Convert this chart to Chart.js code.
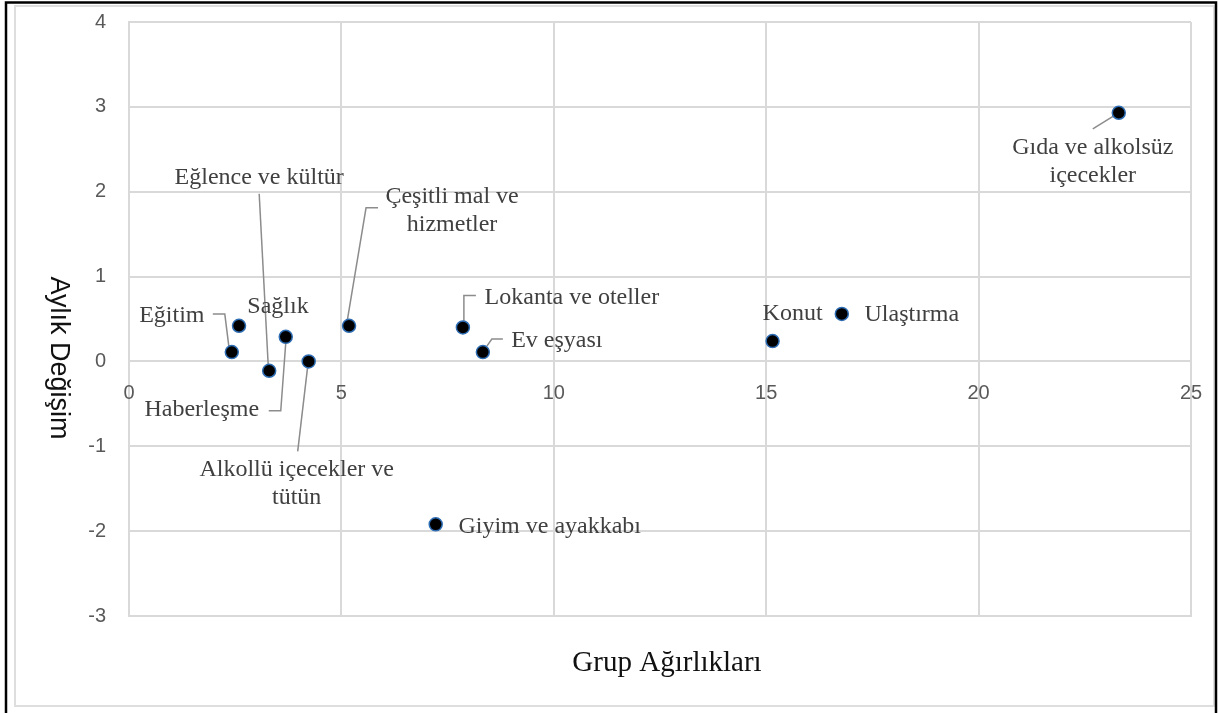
<!DOCTYPE html>
<html><head><meta charset="utf-8">
<script src="https://cdn.jsdelivr.net/npm/chart.js@4.4.1/dist/chart.umd.min.js"></script>
<style>html,body{margin:0;padding:0;background:#fff;}canvas{display:block;}</style>
</head><body>
<canvas id="c" width="1218" height="713"></canvas>
<script>
// ---- data ----
const categories = ["Eğitim","Sağlık","Eğlence ve kültür","Haberleşme","Alkollü içecekler ve tütün","Çeşitli mal ve hizmetler","Giyim ve ayakkabı","Lokanta ve oteller","Ev eşyası","Konut","Ulaştırma","Gıda ve alkolsüz içecekler"];
const weights = [2.42, 2.59, 3.30, 3.69, 4.23, 5.18, 7.22, 7.86, 8.33, 15.15, 16.78, 23.30];
const changes = [0.11, 0.42, -0.11, 0.29, 0.00, 0.42, -1.92, 0.40, 0.11, 0.24, 0.56, 2.93];
const xTicks = [0, 5, 10, 15, 20, 25];
const yTicks = [-3, -2, -1, 0, 1, 2, 3, 4];
const labelLines = [["Eğitim"],["Sağlık"],["Eğlence ve kültür"],["Haberleşme"],["Alkollü içecekler ve","tütün"],["Çeşitli mal ve","hizmetler"],["Giyim ve ayakkabı"],["Lokanta ve oteller"],["Ev eşyası"],["Konut"],["Ulaştırma"],["Gıda ve alkolsüz","içecekler"]];
const xTitle = "Grup Ağırlıkları";
const yTitle = "Aylık Değişim";

// ---- label layout (pixel offsets from each point) ----
const labelOffsets = [[-60,-36],[39,-19],[-10,-193],[-84,73],[-12,122],[103,-115],[114,2],[109,-30],[74,-11],[20,-27],[70,1],[-26,49]];
const leaderPaths = [
  [[-19,-38],[-7,-38],[-3,-6]],
  null,
  [[-10,-177],[-1,-6]],
  [[-17,74],[-5,74],[0,6]],
  [[-11,90],[-1,5]],
  [[29,-118],[17,-118],[-2,-4]],
  null,
  [[13,-32],[1,-32],[1,-6]],
  [[20,-13],[9,-13],[4,-6]],
  null,
  null,
  [[-26,16],[-5,3]]
];

const GRID = '#d9d9d9';
const LABEL_FONT = '24px "Liberation Serif"';
const LINE_H = 28;
const X_TICK_GAP = 32; // label centre below the y=0 line

const framePlugin = {
  id: 'frame',
  beforeDraw(chart) {
    const ctx = chart.ctx;
    ctx.save();
    ctx.fillStyle = '#fff';
    ctx.fillRect(0, 0, chart.width, chart.height);
    ctx.strokeStyle = '#dedede';
    ctx.lineWidth = 2;
    ctx.strokeRect(15, 6, 1199, 700);
    ctx.strokeStyle = '#000';
    ctx.lineWidth = 2.5;
    ctx.beginPath();
    ctx.moveTo(6, 713); ctx.lineTo(6, 2.5); ctx.lineTo(1216, 2.5); ctx.lineTo(1216, 713);
    ctx.stroke();
    ctx.restore();
  },
  beforeDatasetsDraw(chart) {
    const ctx = chart.ctx;
    const pts = chart.getDatasetMeta(0).data;
    ctx.save();
    ctx.strokeStyle = '#8c8c8c';
    ctx.lineWidth = 1.5;
    leaderPaths.forEach((path, i) => {
      if (!path) return;
      const p = pts[i];
      ctx.beginPath();
      path.forEach(([dx, dy], k) => {
        if (k === 0) ctx.moveTo(p.x + dx, p.y + dy); else ctx.lineTo(p.x + dx, p.y + dy);
      });
      ctx.stroke();
    });
    // x tick labels sitting under the y = 0 line
    const xs = chart.scales.x, ys = chart.scales.y;
    const y0 = ys.getPixelForValue(0);
    ctx.font = '20px "Liberation Sans"';
    ctx.fillStyle = '#595959';
    ctx.textAlign = 'center';
    ctx.textBaseline = 'middle';
    xTicks.forEach(v => ctx.fillText(String(v), xs.getPixelForValue(v), y0 + X_TICK_GAP));
    ctx.restore();
  },
  afterDatasetsDraw(chart) {
    const ctx = chart.ctx;
    const pts = chart.getDatasetMeta(0).data;
    ctx.save();
    ctx.font = LABEL_FONT;
    ctx.fillStyle = '#404040';
    ctx.textAlign = 'center';
    ctx.textBaseline = 'middle';
    labelLines.forEach((lines, i) => {
      const p = pts[i];
      const [dx, dy] = labelOffsets[i];
      const y0 = p.y + dy - (lines.length - 1) * LINE_H / 2;
      lines.forEach((t, k) => ctx.fillText(t, p.x + dx, y0 + k * LINE_H));
    });
    // axis titles
    ctx.font = '29px "Liberation Serif"';
    ctx.fillStyle = '#111';
    ctx.fillText(xTitle, 667, 663);
    ctx.translate(58, 358);
    ctx.rotate(Math.PI / 2);
    ctx.font = '27px "Liberation Sans"';
    ctx.fillStyle = '#111';
    ctx.fillText(yTitle, 0, 0);
    ctx.restore();
  }
};

new Chart(document.getElementById('c'), {
  type: 'scatter',
  data: {
    datasets: [{
      data: weights.map((w, i) => ({ x: w, y: changes[i] })),
      backgroundColor: '#000',
      borderColor: '#2e6db4',
      borderWidth: 1.5,
      pointRadius: 6.5,
      pointHoverRadius: 6.5
    }]
  },
  options: {
    responsive: false,
    animation: false,
    devicePixelRatio: 1,
    layout: { padding: { left: 0, top: 22, right: 27, bottom: 97 } },
    plugins: { legend: { display: false }, tooltip: { enabled: false } },
    scales: {
      x: {
        type: 'linear', min: 0, max: 25,
        position: 'bottom',
        afterBuildTicks: s => { s.ticks = xTicks.map(v => ({ value: v })); },
        afterFit: s => { s.height = 0; s.paddingLeft = 0; s.paddingRight = 0; },
        ticks: { display: false },
        grid: { color: GRID, lineWidth: 2, drawTicks: false },
        border: { color: GRID, width: 2 }
      },
      y: {
        type: 'linear', min: -3, max: 4,
        afterFit: s => { s.width = 129; s.paddingTop = 0; s.paddingBottom = 0; },
        afterBuildTicks: s => { s.ticks = yTicks.map(v => ({ value: v })); },
        ticks: { color: '#595959', font: { family: 'Liberation Sans', size: 20 }, padding: 23 },
        grid: { color: GRID, lineWidth: 2, drawTicks: false },
        border: { color: GRID, width: 2 }
      }
    }
  },
  plugins: [framePlugin]
});
</script>
</body></html>
